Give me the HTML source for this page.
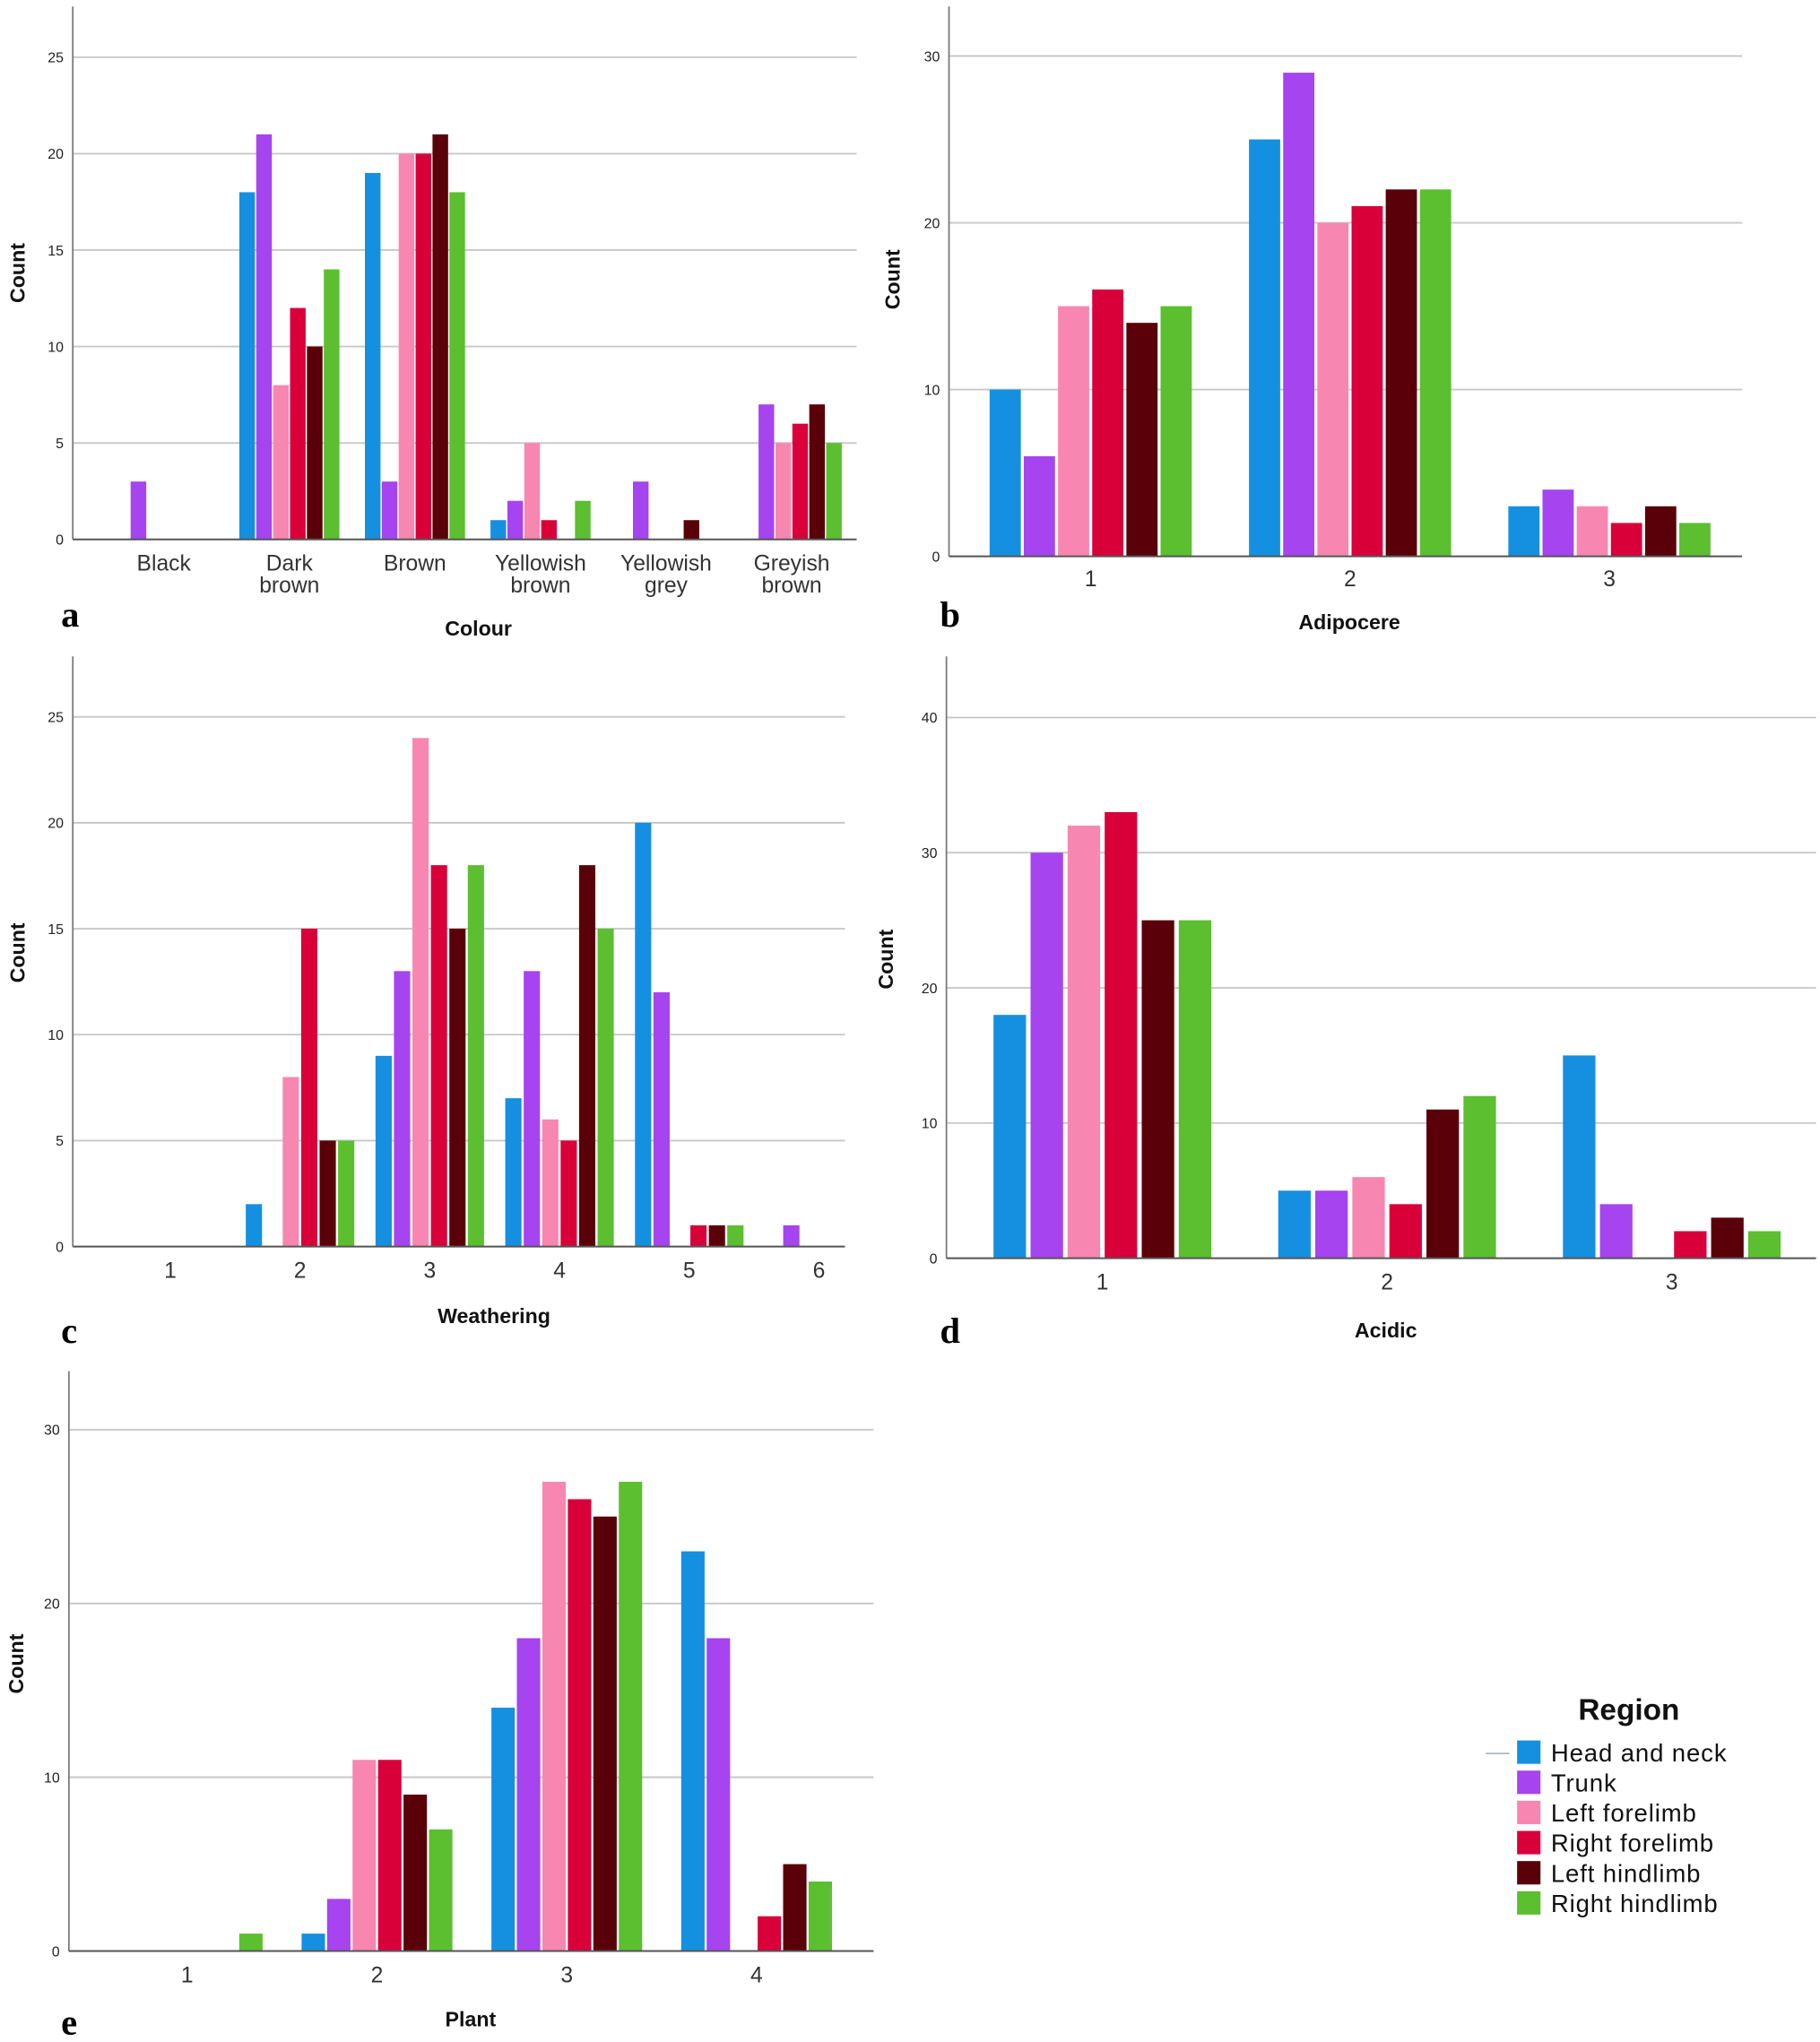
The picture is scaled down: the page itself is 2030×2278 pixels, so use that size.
<!DOCTYPE html>
<html><head><meta charset="utf-8"><style>
html,body{margin:0;padding:0;background:#fff;}
svg{display:block;}
text{font-family:"Liberation Sans",sans-serif;}
</style></head><body>
<svg id="fig" width="2030" height="2278" viewBox="0 0 1400 1571" preserveAspectRatio="none" xmlns="http://www.w3.org/2000/svg"></svg>
<script>
const seriesNames = ["Head and neck","Trunk","Left forelimb","Right forelimb","Left hindlimb","Right hindlimb"];
const seriesColors = ["#1590e0","#a644f0","#f787b0","#d9003a","#5a0008","#5bbf30"];

const colourCats = ["Black","Dark brown","Brown","Yellowish brown","Yellowish grey","Greyish brown"];
const colourVals = [[0,3,0,0,0,0],[18,21,8,12,10,14],[19,3,20,20,21,18],[1,2,5,1,0,2],[0,3,0,0,1,0],[0,7,5,6,7,5]];
const colourTicks = [0,5,10,15,20,25];

const adipCats = ["1","2","3"];
const adipVals = [[10,6,15,16,14,15],[25,29,20,21,22,22],[3,4,3,2,3,2]];
const adipTicks = [0,10,20,30];

const weathCats = ["1","2","3","4","5","6"];
const weathVals = [[0,0,0,0,0,0],[2,0,8,15,5,5],[9,13,24,18,15,18],[7,13,6,5,18,15],[20,12,0,1,1,1],[0,1,0,0,0,0]];
const weathTicks = [0,5,10,15,20,25];

const acidCats = ["1","2","3"];
const acidVals = [[18,30,32,33,25,25],[5,5,6,4,11,12],[15,4,0,2,3,2]];
const acidTicks = [0,10,20,30,40];

const plantCats = ["1","2","3","4"];
const plantVals = [[0,0,0,0,0,1],[1,3,11,11,9,7],[14,18,27,26,25,27],[23,18,0,2,5,4]];
const plantTicks = [0,10,20,30];

const NS = "http://www.w3.org/2000/svg";
const svg = document.getElementById("fig");
function mk(tag, attrs, parent, txt){
  const e = document.createElementNS(NS, tag);
  for (const k in attrs) e.setAttribute(k, attrs[k]);
  if (txt !== undefined) e.textContent = txt;
  (parent||svg).appendChild(e);
  return e;
}

function chart(cfg){
  const g = mk("g", {});
  
  
  const y = v => cfg.y0 - v * cfg.unit;
  // gridlines + ticks
  cfg.ticks.forEach(t => {
    if (t > 0) {
      const gl = mk("line", {x1:cfg.ax, x2:cfg.right, y1:y(t), y2:y(t), stroke:"#c8c8c8", "stroke-width":1.3}, g);
      
      
    }
    const tl = mk("text", {x:cfg.ax-7, y:y(t)+4, "font-size":cfg.tfs||11, "text-anchor":"end", fill:"#222"}, g, t);
    
    
  });
  // axes
  const ya = mk("line", {x1:cfg.ax, x2:cfg.ax, y1:cfg.top, y2:cfg.y0, stroke:"#777", "stroke-width":1.2}, g);
  
  
  // bars
  const n = cfg.cats.length;
  const cx = i => cfg.c0 + i * cfg.cstep;
  cfg.vals.forEach((grp, i) => {
    grp.forEach((v, s) => {
      if (v <= 0) return;
      const bx = cx(i) + (s - 2.5) * cfg.step - cfg.bw/2;
      const r = mk("rect", {x:bx, y:y(v), width:cfg.bw, height:v*cfg.unit, fill:seriesColors[s]}, g);
      
      
    });
    const lines = cfg.cats[i].split(" ");
    lines.forEach((ln, k) => {
      const cl = mk("text", {x:cx(i), y:cfg.y0 + cfg.lab0 + k*17, "font-size":cfg.cfs||17, "text-anchor":"middle", fill:"#333"}, g, ln);
      
      
    });
  });
  const xa = mk("line", {x1:cfg.ax, x2:cfg.right, y1:cfg.y0, y2:cfg.y0, stroke:"#555", "stroke-width":1.4}, g);
  
  
  const yt = mk("text", {x:0, y:0, "font-size":16, "font-weight":"bold", "text-anchor":"middle", fill:"#111", transform:`translate(${cfg.cntX},${cfg.cntY}) rotate(-90)`}, g, "Count");
  
  
  const xt = mk("text", {x:cfg.xtX, y:cfg.xtY, "font-size":16, "font-weight":"bold", "text-anchor":"middle", fill:"#111"}, g, cfg.xtitle);
  
  
  const pl = mk("text", {x:cfg.plX, y:cfg.plY, "font-size":28, "font-weight":"bold", fill:"#000", style:"font-family:'Liberation Serif',serif"}, g, cfg.letter);
  
  
}

chart({name:"chart-colour", cats:colourCats, vals:colourVals, ticks:colourTicks, ax:56, right:659, top:5, y0:415, unit:74.2/5,
  c0:126, cstep:96.6, step:13, bw:12, lab0:24, cfs:17, cntX:19, cntY:210, xtitle:"Colour", xtX:368, xtY:489, letter:"a", plX:47, plY:482});
chart({name:"chart-adipocere", cats:adipCats, vals:adipVals, ticks:adipTicks, ax:730, right:1340, top:5, y0:428, unit:12.83,
  c0:839, cstep:199.5, step:26.3, bw:24, lab0:23, cfs:17, cntX:692, cntY:215, xtitle:"Adipocere", xtX:1038, xtY:484, letter:"b", plX:723, plY:482});
chart({name:"chart-weathering", cats:weathCats, vals:weathVals, ticks:weathTicks, ax:56, right:650, top:505, y0:959, unit:16.3,
  c0:131, cstep:99.8, step:14.2, bw:12.5, lab0:24, cfs:17, cntX:19, cntY:733, xtitle:"Weathering", xtX:380, xtY:1018, letter:"c", plX:47, plY:1033});
chart({name:"chart-acidic", cats:acidCats, vals:acidVals, ticks:acidTicks, ax:728, right:1397, top:505, y0:968, unit:10.4,
  c0:848, cstep:219, step:28.5, bw:25, lab0:24, cfs:17, cntX:687, cntY:738, xtitle:"Acidic", xtX:1066, xtY:1029, letter:"d", plX:723, plY:1033});
chart({name:"chart-plant", cats:plantCats, vals:plantVals, ticks:plantTicks, ax:53, right:672, top:1055, y0:1501, unit:13.37,
  c0:144, cstep:146, step:19.6, bw:18, lab0:24, cfs:17, cntX:18, cntY:1280, xtitle:"Plant", xtX:362, xtY:1559, letter:"e", plX:47, plY:1565});

// legend
const lg = mk("g", {});


const lt = mk("text", {x:1253, y:1323, "font-size":23, "font-weight":"bold", "text-anchor":"middle", fill:"#111"}, lg, "Region");


mk("line", {x1:1143, x2:1161, y1:1349, y2:1349, stroke:"#9ab", "stroke-width":1}, lg);
seriesNames.forEach((nm, s) => {
  const yy = 1339 + s * 23.2;
  const sw = mk("rect", {x:1167, y:yy, width:18, height:18, fill:seriesColors[s]}, lg);
  
  
  const tx = mk("text", {x:1193, y:yy+16, "font-size":19, fill:"#111", "letter-spacing":"0.6"}, lg, nm);
  
  
});
</script>
</body></html>
